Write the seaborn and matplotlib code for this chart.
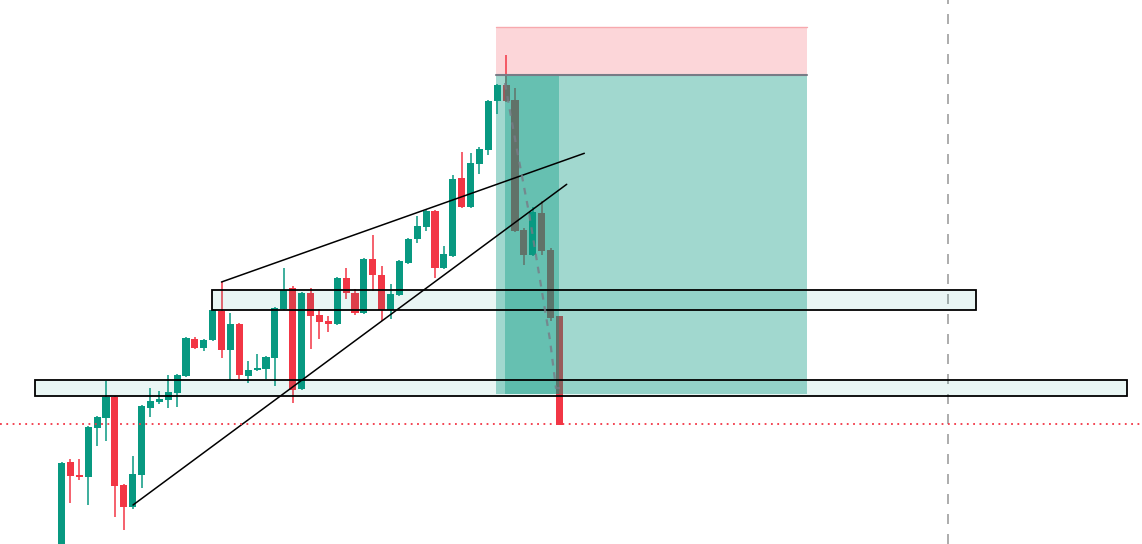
import numpy as np
import pandas as pd
import matplotlib
matplotlib.use("Agg")
import matplotlib.pyplot as plt
from matplotlib.patches import Rectangle
import seaborn as sns

# ---------------- data (price units, bar index on x) ----------------
opens = [52, 138, 125, 123, 172, 182, 203, 115, 93, 125, 192, 198, 200, 207, 224, 261, 252, 260,
         289, 250, 276, 224, 230, 231, 242, 291, 312, 211, 307, 285, 279, 276, 322, 307, 287, 341,
         325, 290, 305, 337, 361, 373, 389, 332, 344, 422, 393, 436, 450, 499, 515, 500, 370, 345,
         387, 350, 284]
highs = [138, 141, 141, 174, 184, 219, 204, 116, 144, 195, 212, 209, 225, 226, 263, 263, 261, 291,
         318, 287, 277, 239, 246, 244, 293, 332, 314, 308, 312, 291, 284, 323, 332, 311, 342, 365,
         334, 316, 340, 362, 384, 390, 390, 354, 425, 448, 447, 453, 500, 516, 545, 512, 372, 393,
         399, 352, 284]
lows = [48, 97, 120, 95, 154, 159, 83, 70, 91, 112, 183, 196, 192, 193, 223, 251, 249, 259,
        242, 220, 221, 217, 229, 221, 214, 290, 197, 210, 251, 261, 268, 275, 301, 285, 286, 309,
        279, 281, 304, 336, 357, 369, 322, 331, 343, 392, 392, 426, 445, 486, 498, 368, 335, 344,
        345, 279, 175]
closes = [137, 124, 123, 173, 183, 203, 114, 93, 126, 194, 199, 201, 208, 225, 262, 252, 260, 290,
          250, 276, 225, 230, 232, 243, 292, 310, 210, 307, 284, 278, 276, 322, 307, 287, 341, 325,
          290, 306, 339, 361, 374, 389, 332, 346, 421, 393, 437, 451, 499, 515, 499, 369, 345, 388,
          349, 282, 175]

# position tool (short): stop zone, target zone, entry
pos_x = [48.86, 83.83]
pos_stop = [525, 573]
pos_target = [206, 525]
pos_active_x = [49.87, 55.94]

# horizontal zones: [x_start, x_end, low, high]
zone_upper = [16.92, 102.8, 289.7, 310.0]
zone_lower = [-2.95, 119.78, 203.7, 219.7]

# trend lines
upper_line_x = [17.99, 58.79]
upper_line_y = [318.0, 446.7]
lower_line_x = [8.04, 56.81]
lower_line_y = [95.0, 415.7]

# projected path (dashed)
path_x = [49.87, 51.22, 52.57, 53.81, 54.93, 55.60, 56.28]
path_y = [517, 450, 387, 320, 260, 212, 212]

red_level = 176
vline_x = 99.68

GREEN = "#089981"
RED = "#f23645"

df = pd.DataFrame({"open": opens, "high": highs, "low": lows, "close": closes})
df["idx"] = np.arange(len(df))
df["up"] = df["close"] >= df["open"]

# ---------------- figure ----------------
sns.set_theme(style="white")
fig = plt.figure(figsize=(11.42, 5.44), dpi=100)
ax = fig.add_axes([0, 0, 1, 1])
ax.set_axis_off()
ax.set_xlim(-6.9156, 121.50)
ax.set_ylim(56, 600)

colors = [GREEN if u else RED for u in df["up"]]

# stop (pink) region under the candles
ax.add_patch(Rectangle((pos_x[0], pos_stop[0]), pos_x[1] - pos_x[0], pos_stop[1] - pos_stop[0],
                       facecolor=RED, alpha=0.2, edgecolor="none", zorder=1))
ax.plot(pos_x, [pos_stop[1], pos_stop[1]], color="#f7a9ae", lw=1, zorder=1.1)

# candles
ax.vlines(df["idx"], df["low"], df["high"], colors=colors, lw=1.1, zorder=2)
body_bottom = np.minimum(df["open"], df["close"])
body_h = np.maximum(np.abs(df["close"] - df["open"]), 1.2)
ax.bar(df["idx"], body_h, bottom=body_bottom, width=0.8, color=colors,
       edgecolor="none", linewidth=0, zorder=2.1)

# target region over the candles
ax.add_patch(Rectangle((pos_x[0], pos_target[0]), pos_x[1] - pos_x[0], pos_target[1] - pos_target[0],
                       facecolor=GREEN, alpha=0.38, edgecolor="none", zorder=3))
ax.add_patch(Rectangle((pos_active_x[0], pos_target[0]), pos_active_x[1] - pos_active_x[0],
                       pos_target[1] - pos_target[0],
                       facecolor=GREEN, alpha=0.38, edgecolor="none", zorder=3.1))
ax.plot(pos_x, [pos_stop[0], pos_stop[0]], color="#787b86", lw=1.5, zorder=3.2)

# zones
for z in (zone_upper, zone_lower):
    ax.add_patch(Rectangle((z[0], z[2]), z[1] - z[0], z[3] - z[2],
                           facecolor=(8/255, 153/255, 129/255, 0.085),
                           edgecolor="black", lw=1.3, zorder=4))

# trend lines
sns.lineplot(x=upper_line_x, y=upper_line_y, ax=ax, color="black", lw=1.1, zorder=5)
sns.lineplot(x=lower_line_x, y=lower_line_y, ax=ax, color="black", lw=1.1, zorder=5)

# projection path
sns.lineplot(x=path_x, y=path_y, ax=ax, sort=False, color="#787b86", lw=1.6,
             linestyle=(0, (3, 3)), alpha=0.8, zorder=5)

# red dotted level and grey vertical dashed line
ax.axhline(red_level, color=RED, lw=1.3, linestyle=(0, (1, 2.5)), zorder=6)
ax.axvline(vline_x, color="#9e9e9e", lw=1.2, linestyle=(0, (6, 6)), zorder=0.5)

ax.set_xlim(-6.9156, 121.50)
ax.set_ylim(56, 600)
fig.savefig("out.png", dpi=100)
